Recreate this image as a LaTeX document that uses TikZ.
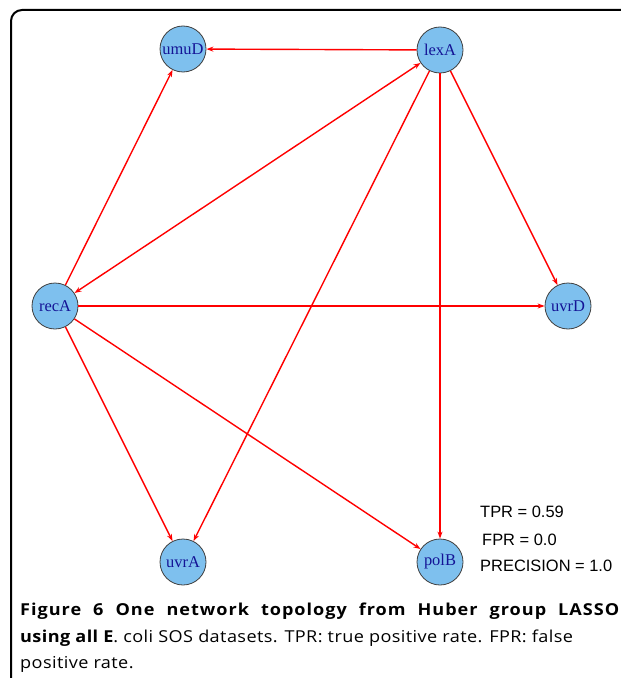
\documentclass[tikz,border=0pt]{standalone}
\usepackage{fontspec}
\setmainfont{Liberation Serif}
\newfontfamily\statfont{Liberation Sans}
\newfontfamily\capfont[FakeStretch=1.1,LetterSpace=2.5]{Open Sans}
\newfontfamily\capwide[FakeStretch=1.1,LetterSpace=6]{Open Sans}
\usetikzlibrary{arrows.meta}
\definecolor{genefill}{RGB}{126,192,238}
\definecolor{genetext}{RGB}{20,20,150}
\definecolor{edgered}{RGB}{255,0,0}

\begin{document}
\begin{tikzpicture}[x=1bp,y=-1bp,
	gene/.style={shape=circle,draw=black!75,fill=genefill,line width=0.8bp,minimum size=46bp,inner sep=0pt,text=genetext,font=\fontsize{16.5}{16.5}\selectfont},
	stat/.style={anchor=base west,inner sep=0pt,font=\statfont\fontsize{16.5}{16.5}\selectfont},
	capline/.style={anchor=base west,inner sep=0pt,font=\capfont\fontsize{16.5}{16.5}\selectfont},
	every edge/.style={draw=edgered,line width=1.4bp},
	>={Stealth[length=7bp,width=5bp]}]
	\useasboundingbox (0,0) rectangle (621,678);
	\draw[line width=2bp,rounded corners=11bp] (11,700) -- (11,10) -- (660,10);

	\node[gene] (umuD) at (183,49) {umuD};
	\node[gene] (lexA) at (440,50) {lexA};
	\node[gene] (recA) at (55,306) {recA};
	\node[gene] (uvrD) at (568,306) {uvrD};
	\node[gene] (uvrA) at (183,562) {uvrA};
	\node[gene] (polB) at (440,562) {polB};

	\path [->] (lexA) edge (umuD);
	\path [->] (recA) edge (umuD);
	\path [<->] (recA) edge (lexA);
	\path [->] (lexA) edge (uvrD);
	\path [->] (lexA) edge (uvrA);
	\path [->] (lexA) edge (polB);
	\path [->] (recA) edge (uvrD);
	\path [->] (recA) edge (uvrA);
	\path [->] (recA) edge (polB);

	\node[stat] (tpr) at (480,517) {TPR = 0.59};
	\node[stat] (fpr) at (482,545) {FPR = 0.0};
	\node[stat] (prec) at (480,571) {PRECISION = 1.0};

	% caption, one node per printed line
	\node[capline] (cap1) at (20,615) {\capwide\makebox[599bp][s]{\bfseries Figure 6 One network topology from Huber group LASSO}};
	\node[capline] (cap2) at (20,642) {\textbf{using all E}. coli SOS datasets. TPR: true positive rate. FPR: false};
	\node[capline] (cap3) at (20,668) {positive rate.};
\end{tikzpicture}
\end{document}
